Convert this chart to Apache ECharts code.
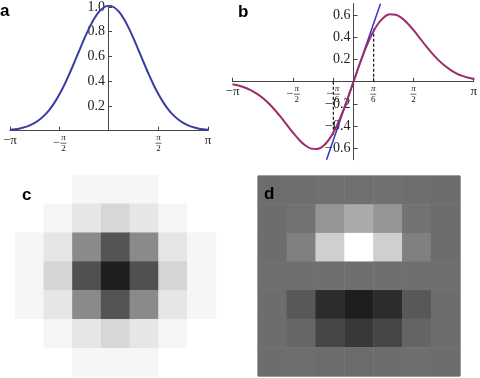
<!DOCTYPE html>
<html><head><meta charset="utf-8">
<script src="https://cdn.jsdelivr.net/npm/echarts@6/dist/echarts.min.js"></script>
<style>html,body{margin:0;padding:0;background:#fff}#c{width:480px;height:378px}</style>
</head><body><div id="c"></div>
<script>
// ---- data ----
const xs = [-3.1416,-2.9845,-2.8274,-2.6704,-2.5133,-2.3562,-2.1991,-2.0420,-1.8850,-1.7279,-1.5708,-1.4137,-1.2566,-1.0996,-0.9425,-0.7854,-0.6283,-0.4712,-0.3142,-0.1571,0,0.1571,0.3142,0.4712,0.6283,0.7854,0.9425,1.0996,1.2566,1.4137,1.5708,1.7279,1.8850,2.0420,2.1991,2.3562,2.5133,2.6704,2.8274,2.9845,3.1416];
const gauss = [0.0072,0.0116,0.0184,0.0283,0.0425,0.0623,0.0891,0.1243,0.1692,0.2248,0.2912,0.3681,0.4540,0.5463,0.6414,0.7346,0.8209,0.8949,0.9519,0.9877,1.0000,0.9877,0.9519,0.8949,0.8209,0.7346,0.6414,0.5463,0.4540,0.3681,0.2912,0.2248,0.1692,0.1243,0.0891,0.0623,0.0425,0.0283,0.0184,0.0116,0.0072];
const deriv = [-0.0226,-0.0347,-0.0519,-0.0755,-0.1068,-0.1468,-0.1959,-0.2538,-0.3190,-0.3883,-0.4574,-0.5204,-0.5706,-0.6008,-0.6045,-0.5770,-0.5158,-0.4217,-0.2991,-0.1552,0,0.1552,0.2991,0.4217,0.5158,0.5770,0.6045,0.6008,0.5706,0.5204,0.4574,0.3883,0.3190,0.2538,0.1959,0.1468,0.1068,0.0755,0.0519,0.0347,0.0226];
const tangentX = [-0.7, 0.7];
const tangentY = [-0.7, 0.7];
const dashX = [-0.5236, 0.5236];
const dashY = [-0.48, 0.48];
const xMin = -3.1416, xMax = 3.1416;
const aXTicks = [-3.1416, -1.5708, 1.5708, 3.1416];
const aYTicks = [0.2, 0.4, 0.6, 0.8, 1.0];
const bXTicks = [-3.1416, -1.5708, -0.5236, 0.5236, 1.5708, 3.1416];
const bYTicks = [-0.6, -0.4, -0.2, 0.2, 0.4, 0.6];
const cells = [0,1,2,3,4,5,6];
const kernelC = [
  [255,255,246,246,246,255,255],
  [255,245,230,215,230,245,255],
  [246,230,138,84,138,230,246],
  [246,213,80,31,80,213,246],
  [246,230,138,84,138,230,246],
  [255,245,230,215,230,245,255],
  [255,255,246,246,246,255,255]
];
const kernelD = [
  [109,110,112,112,112,110,109],
  [109,114,149,170,149,114,109],
  [109,128,207,255,207,128,109],
  [111,111,111,111,111,111,111],
  [109,88,44,30,44,88,109],
  [109,102,70,56,70,100,109],
  [109,110,108,108,108,110,109]
];

// ---- helpers ----
const serif = 'Liberation Serif';
function piLabel(v) {
  const r = Math.round(v / 3.1416 * 6);
  if (r === -6) return '−π';
  if (r === 6) return 'π';
  if (r === -3) return '{sp| }{n|π}\n{m|−}{bar| }\n{sp| }{d|2}';
  if (r === 3) return '{n|π}\n{bar| }\n{d|2}';
  if (r === -1) return '{sp| }{n|π}\n{m|−}{bar| }\n{sp| }{d|6}';
  if (r === 1) return '{n|π}\n{bar| }\n{d|6}';
  return '';
}
const richFrac = {
  n: {fontFamily: serif, fontSize: 9, fontStyle: 'italic', width: 7, align: 'center', lineHeight: 8, color: '#222'},
  d: {fontFamily: serif, fontSize: 9, width: 7, align: 'center', lineHeight: 8, color: '#222'},
  bar: {fontSize: 1, width: 6, height: 1, lineHeight: 3, backgroundColor: '#666'},
  m: {fontFamily: serif, fontSize: 12, width: 8, lineHeight: 3, color: '#222'},
  sp: {fontSize: 1, width: 8}
};
function toXY(xArr, yArr) { return xArr.map((x, i) => [x, yArr[i]]); }
function toCells(k) {
  const out = [];
  k.forEach((row, r) => row.forEach((v, c) => out.push([cells[c], cells[r], v])));
  return out;
}
const axisCol = '#444';
const hiddenVal = (g, min, max) => ({gridIndex: g, type: 'value', min: min, max: max, show: false});
function piXAxis(g, ticks) {
  return {gridIndex: g, type: 'value', min: xMin, max: xMax, splitLine: {show: false},
    axisLine: {onZero: false, lineStyle: {color: axisCol, width: 1}},
    axisTick: {inside: true, length: 4, customValues: ticks, lineStyle: {color: axisCol}},
    axisLabel: {customValues: ticks, formatter: piLabel, margin: 3, fontFamily: serif, fontSize: 13, color: '#222', rich: richFrac}};
}
function numYAxis(g, min, max, ticks) {
  return {gridIndex: g, type: 'value', min: min, max: max, splitLine: {show: false},
    axisLine: {onZero: false, lineStyle: {color: axisCol, width: 1}},
    axisTick: {inside: true, length: 4, customValues: ticks, lineStyle: {color: axisCol}},
    axisLabel: {customValues: ticks, margin: 3, fontFamily: serif, fontSize: 14, color: '#222',
      formatter: v => v.toFixed(1).replace('-', '−')}};
}

const chart = echarts.init(document.getElementById('c'), null, {renderer: 'canvas'});
chart.setOption({
  animation: false,
  backgroundColor: '#fff',
  grid: [
    {left: 8, top: 5.7, width: 200, height: 125},          // 0 a plot
    {left: 232.5, top: 3.7, width: 242, height: 156},      // 1 b plot
    {left: 15, top: 175, width: 201, height: 202},         // 2 c
    {left: 258, top: 176, width: 202, height: 200, show: true, borderColor: '#5a5a5a', borderWidth: 1, backgroundColor: 'transparent'}, // 3 d
    {left: 108, top: 5.7, width: 100, height: 125},        // 4 a y-axis at x=0
    {left: 232.5, top: 3.7, width: 242, height: 78},       // 5 b x-axis at y=0
    {left: 353.5, top: 3.7, width: 121, height: 156}       // 6 b y-axis at x=0
  ],
  xAxis: [
    piXAxis(0, aXTicks),
    hiddenVal(1, xMin, xMax),
    {gridIndex: 2, type: 'category', data: cells, show: false},
    {gridIndex: 3, type: 'category', data: cells, show: false},
    hiddenVal(4, 0, 1),
    piXAxis(5, bXTicks),
    hiddenVal(6, 0, 1)
  ],
  yAxis: [
    hiddenVal(0, 0, 1.0),
    hiddenVal(1, -0.7, 0.7),
    {gridIndex: 2, type: 'category', data: cells, show: false, inverse: true},
    {gridIndex: 3, type: 'category', data: cells, show: false, inverse: true},
    numYAxis(4, 0, 1.0, aYTicks),
    hiddenVal(5, 0, 0.7),
    numYAxis(6, -0.7, 0.7, bYTicks)
  ],
  visualMap: [
    {show: false, seriesIndex: 5, min: 0, max: 255, inRange: {color: ['#000000', '#ffffff']}},
    {show: false, seriesIndex: 6, min: 0, max: 255, inRange: {color: ['#000000', '#ffffff']}}
  ],
  series: [
    {type: 'line', xAxisIndex: 0, yAxisIndex: 0, data: toXY(xs, gauss), showSymbol: false, smooth: 0.3, z: 5,
     lineStyle: {color: '#3b3ba6', width: 2}},
    {type: 'line', xAxisIndex: 1, yAxisIndex: 1, data: toXY(tangentX, tangentY), showSymbol: false, z: 5,
     lineStyle: {color: '#3434c4', width: 1.5}},
    {type: 'line', xAxisIndex: 1, yAxisIndex: 1, data: [[dashX[0], 0], [dashX[0], dashY[0]]], showSymbol: false, z: 5,
     lineStyle: {color: '#111', width: 1.2, type: [3, 2]}},
    {type: 'line', xAxisIndex: 1, yAxisIndex: 1, data: [[dashX[1], 0], [dashX[1], dashY[1]]], showSymbol: false, z: 5,
     lineStyle: {color: '#111', width: 1.2, type: [3, 2]}},
    {type: 'line', xAxisIndex: 1, yAxisIndex: 1, data: toXY(xs, deriv), showSymbol: false, smooth: 0.3, z: 6,
     lineStyle: {color: '#9c2c6c', width: 2}},
    {type: 'heatmap', xAxisIndex: 2, yAxisIndex: 2, data: toCells(kernelC)},
    {type: 'heatmap', xAxisIndex: 3, yAxisIndex: 3, data: toCells(kernelD)}
  ],
  graphic: [
    {type: 'text', left: 0, top: 3, z: 100, style: {text: 'a', font: 'bold 17px "Liberation Sans"', fill: '#000'}},
    {type: 'text', left: 238, top: 4, z: 100, style: {text: 'b', font: 'bold 17px "Liberation Sans"', fill: '#000'}},
    {type: 'text', left: 22, top: 187, z: 100, style: {text: 'c', font: 'bold 17px "Liberation Sans"', fill: '#000'}},
    {type: 'text', left: 264, top: 186, z: 100, style: {text: 'd', font: 'bold 17px "Liberation Sans"', fill: '#000'}}
  ]
});
</script></body></html>
